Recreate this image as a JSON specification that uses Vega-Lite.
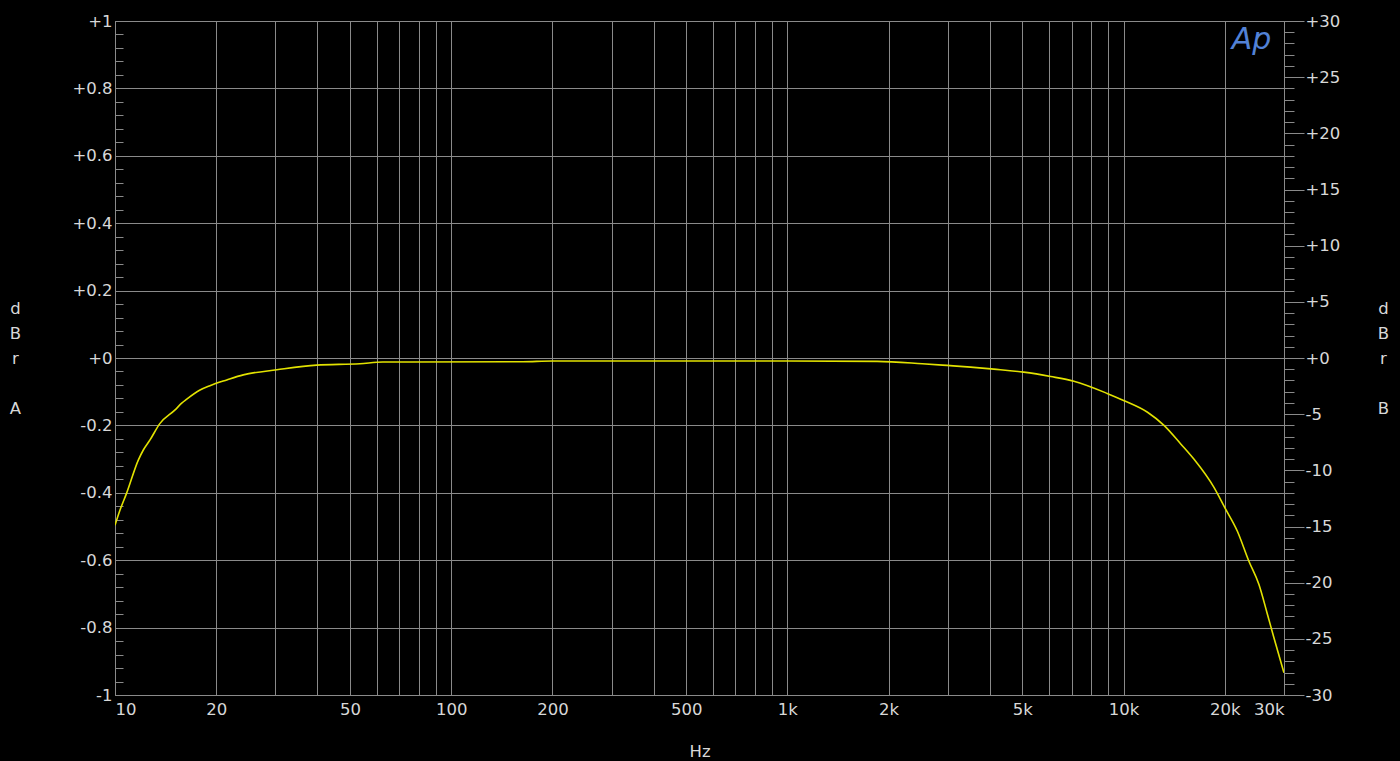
{
  "$schema": "https://vega.github.io/schema/vega-lite/v6.json",
  "width": 1169,
  "height": 674,
  "autosize": {"type": "none"},
  "padding": {"left": 115, "top": 21, "right": 116, "bottom": 66},
  "background": "#000000",
  "config": {
    "view": {"stroke": "#8a8a8a", "strokeWidth": 1},
    "font": "DejaVu Sans",
    "axis": {
      "labelColor": "#d8d8d8",
      "labelFont": "DejaVu Sans",
      "labelFontSize": 16.5,
      "titleColor": "#d8d8d8",
      "titleFont": "DejaVu Sans",
      "titleFontSize": 16.5,
      "titleFontWeight": "normal",
      "tickColor": "#8a8a8a",
      "gridColor": "#8a8a8a",
      "gridOpacity": 1,
      "domainColor": "#8a8a8a"
    }
  },
  "data": {
    "values": [
      {"f": 10, "v": -0.496},
      {"f": 10.35, "v": -0.451},
      {"f": 10.83, "v": -0.401},
      {"f": 11.73, "v": -0.303},
      {"f": 12.14, "v": -0.273},
      {"f": 12.71, "v": -0.243},
      {"f": 13.61, "v": -0.194},
      {"f": 15.09, "v": -0.154},
      {"f": 15.79, "v": -0.134},
      {"f": 16.35, "v": -0.122},
      {"f": 17.9, "v": -0.095},
      {"f": 19.16, "v": -0.082},
      {"f": 21.5, "v": -0.065},
      {"f": 24.07, "v": -0.05},
      {"f": 30.3, "v": -0.035},
      {"f": 39.8, "v": -0.021},
      {"f": 53.5, "v": -0.017},
      {"f": 62.6, "v": -0.012},
      {"f": 75.5, "v": -0.012},
      {"f": 163, "v": -0.011},
      {"f": 200, "v": -0.009},
      {"f": 500, "v": -0.009},
      {"f": 1000, "v": -0.009},
      {"f": 1850, "v": -0.01},
      {"f": 2518, "v": -0.017},
      {"f": 2985, "v": -0.022},
      {"f": 3508, "v": -0.027},
      {"f": 4113, "v": -0.033},
      {"f": 5047, "v": -0.042},
      {"f": 6068, "v": -0.055},
      {"f": 7114, "v": -0.069},
      {"f": 8933, "v": -0.105},
      {"f": 10000, "v": -0.126},
      {"f": 11780, "v": -0.161},
      {"f": 13190, "v": -0.2},
      {"f": 14790, "v": -0.255},
      {"f": 16180, "v": -0.3},
      {"f": 18570, "v": -0.384},
      {"f": 20000, "v": -0.444},
      {"f": 21800, "v": -0.514},
      {"f": 23590, "v": -0.603},
      {"f": 25270, "v": -0.672},
      {"f": 26790, "v": -0.761},
      {"f": 28000, "v": -0.83},
      {"f": 29990, "v": -0.934}
    ]
  },
  "resolve": {"scale": {"y": "independent"}, "axis": {"y": "independent", "x": "independent"}},
  "layer": [
    {
      "mark": {"type": "line", "color": "#e2e200", "strokeWidth": 1.6, "interpolate": "monotone", "clip": true},
      "encoding": {
        "x": {
          "field": "f", "type": "quantitative",
          "scale": {"type": "log", "domain": [10, 30000], "nice": false},
          "axis": {
            "orient": "bottom",
            "values": [10, 20, 30, 40, 50, 60, 70, 80, 90, 100, 200, 300, 400, 500, 600, 700, 800, 900, 1000, 2000, 3000, 4000, 5000, 6000, 7000, 8000, 9000, 10000, 20000, 30000],
            "labelExpr": "indexof([10, 20, 50, 100, 200, 500, 1000, 2000, 5000, 10000, 20000, 30000], datum.value) >= 0 ? (datum.value >= 1000 ? (datum.value / 1000) + 'k' : datum.value + '') : ''",
            "labelFlush": true,
            "labelOverlap": false,
            "ticks": false,
            "domain": false,
            "grid": true,
            "labelPadding": 6,
            "title": "Hz",
            "titleY": 61,
            "titleBaseline": "alphabetic",
            "titleAlign": "center"
          }
        },
        "y": {
          "field": "v", "type": "quantitative",
          "scale": {"domain": [-1, 1], "nice": false, "zero": false},
          "axis": {
            "orient": "left",
            "values": [-1, -0.8, -0.6, -0.4, -0.2, 0, 0.2, 0.4, 0.6, 0.8, 1],
            "labelExpr": "(datum.value >= -0.000001 ? '+' : '-') + format(abs(datum.value), '.1~f')",
            "grid": true,
            "ticks": false,
            "domain": false,
            "labelPadding": 3,
            "labelOverlap": false,
            "title": ["d", "B", "r"],
            "titleAngle": 0,
            "titleAlign": "center",
            "titleBaseline": "top",
            "titleLineHeight": 25,
            "titleX": -100,
            "titleY": 279
          }
        }
      }
    },
    {
      "mark": {"type": "point", "opacity": 0, "size": 1},
      "encoding": {
        "x": {"field": "f", "type": "quantitative", "scale": {"type": "log", "domain": [10, 30000], "nice": false}, "axis": null},
        "y": {
          "field": "v", "type": "quantitative",
          "scale": {"domain": [-1, 1], "nice": false, "zero": false},
          "axis": {
            "orient": "left",
            "values": [-1, -0.96, -0.92, -0.88, -0.84, -0.8, -0.76, -0.72, -0.68, -0.64, -0.6, -0.56, -0.52, -0.48, -0.44, -0.4, -0.36, -0.32, -0.28, -0.24, -0.2, -0.16, -0.12, -0.08, -0.04, 0, 0.04, 0.08, 0.12, 0.16, 0.2, 0.24, 0.28, 0.32, 0.36, 0.4, 0.44, 0.48, 0.52, 0.56, 0.6, 0.64, 0.68, 0.72, 0.76, 0.8, 0.84, 0.88, 0.92, 0.96, 1],
            "tickSize": -8,
            "labels": false,
            "grid": false,
            "domain": false,
            "title": "A",
            "titleAngle": 0,
            "titleAlign": "center",
            "titleBaseline": "top",
            "titleX": -100,
            "titleY": 379
          }
        }
      }
    },
    {
      "mark": {"type": "point", "opacity": 0, "size": 1},
      "encoding": {
        "x": {"field": "f", "type": "quantitative", "scale": {"type": "log", "domain": [10, 30000], "nice": false}, "axis": null},
        "y": {
          "field": "v", "type": "quantitative",
          "scale": {"domain": [-30, 30], "nice": false, "zero": false},
          "axis": {
            "orient": "right",
            "values": [-30, -25, -20, -15, -10, -5, 0, 5, 10, 15, 20, 25, 30],
            "labelExpr": "(datum.value >= 0 ? '+' : '-') + format(abs(datum.value), 'd')",
            "tickSize": 20,
            "labelPadding": 1,
            "labelOverlap": false,
            "grid": false,
            "domain": false,
            "title": ["d", "B", "r"],
            "titleAngle": 0,
            "titleAlign": "center",
            "titleBaseline": "top",
            "titleLineHeight": 25,
            "titleX": 99,
            "titleY": 279
          }
        }
      }
    },
    {
      "mark": {"type": "point", "opacity": 0, "size": 1},
      "encoding": {
        "x": {"field": "f", "type": "quantitative", "scale": {"type": "log", "domain": [10, 30000], "nice": false}, "axis": null},
        "y": {
          "field": "v", "type": "quantitative",
          "scale": {"domain": [-30, 30], "nice": false, "zero": false},
          "axis": {
            "orient": "right",
            "values": [-30, -29, -28, -27, -26, -25, -24, -23, -22, -21, -20, -19, -18, -17, -16, -15, -14, -13, -12, -11, -10, -9, -8, -7, -6, -5, -4, -3, -2, -1, 0, 1, 2, 3, 4, 5, 6, 7, 8, 9, 10, 11, 12, 13, 14, 15, 16, 17, 18, 19, 20, 21, 22, 23, 24, 25, 26, 27, 28, 29, 30],
            "tickSize": 10,
            "labels": false,
            "grid": false,
            "domain": false,
            "title": "B",
            "titleAngle": 0,
            "titleAlign": "center",
            "titleBaseline": "top",
            "titleX": 99,
            "titleY": 379
          }
        }
      }
    },
    {
      "data": {"values": [{"f": 24000, "v": 0.945, "label": "Ap"}]},
      "mark": {"type": "text", "color": "#5282d6", "fontSize": 30, "fontStyle": "italic", "fontWeight": "normal", "font": "DejaVu Sans", "align": "center", "baseline": "middle"},
      "encoding": {
        "x": {"field": "f", "type": "quantitative", "scale": {"type": "log", "domain": [10, 30000], "nice": false}, "axis": null},
        "y": {"field": "v", "type": "quantitative", "scale": {"domain": [-1, 1], "nice": false, "zero": false}, "axis": null},
        "text": {"field": "label"}
      }
    }
  ]
}
